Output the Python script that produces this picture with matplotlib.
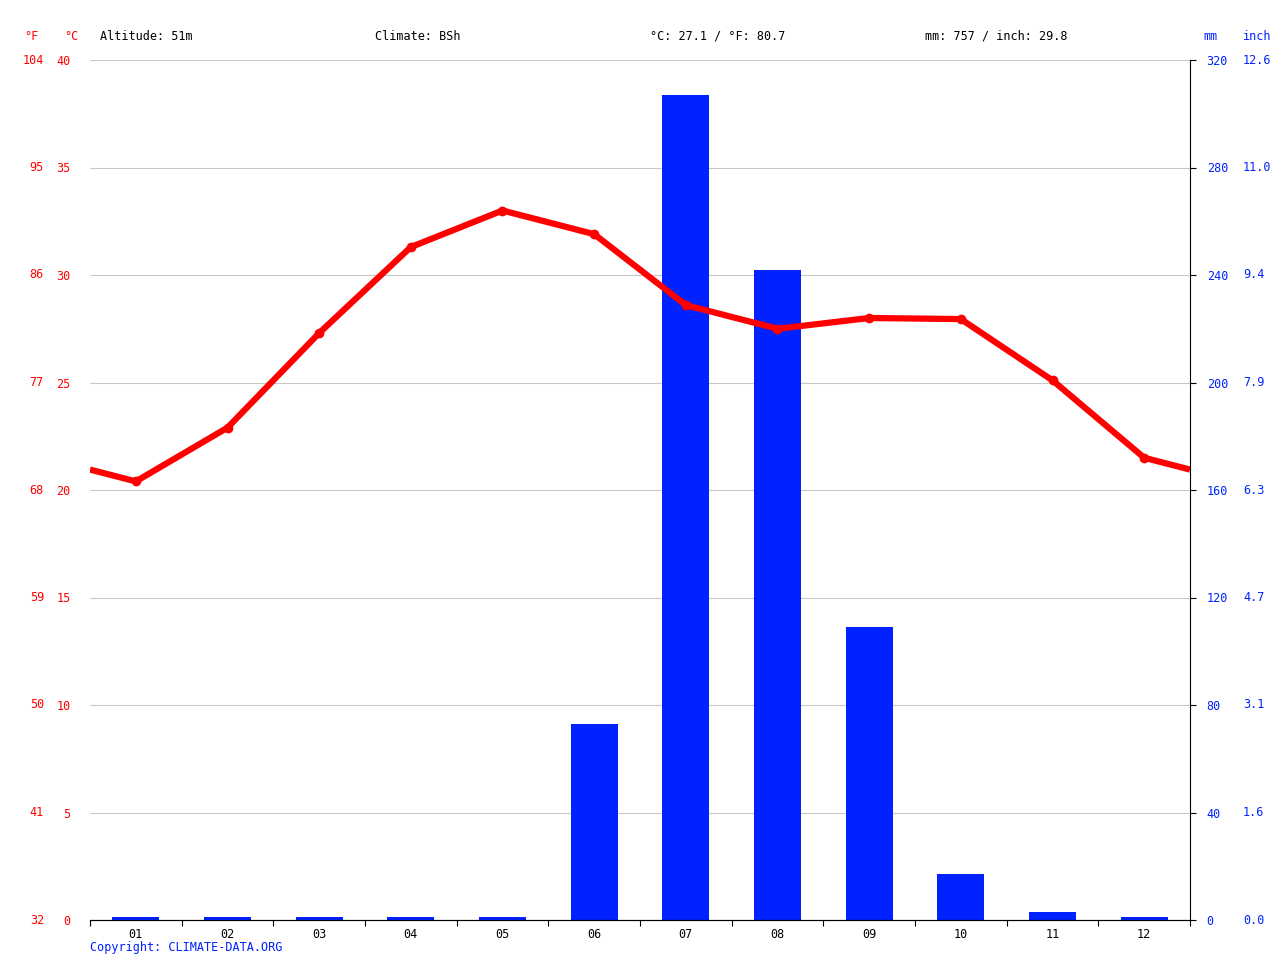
import matplotlib
matplotlib.use('Agg')
import matplotlib.pyplot as plt
import numpy as np

months = ['01', '02', '03', '04', '05', '06', '07', '08', '09', '10', '11', '12']
temp_c = [20.4, 22.9, 27.3, 31.3, 33.0, 31.9, 28.6, 27.5, 28.0, 27.95, 25.1, 21.5]
precip_mm = [1, 1, 1, 1, 1, 73, 307, 242, 109, 17, 3, 1]

c_ticks = [0, 5, 10, 15, 20, 25, 30, 35, 40]
f_labels = ['32', '41', '50', '59', '68', '77', '86', '95', '104']
mm_ticks = [0, 40, 80, 120, 160, 200, 240, 280, 320]
inch_labels = ['0.0', '1.6', '3.1', '4.7', '6.3', '7.9', '9.4', '11.0', '12.6']

red = '#ff0000'
blue = '#0022ff'
mono = 'DejaVu Sans Mono'
fs = 8.5

fig = plt.figure(figsize=(12.8, 9.6), dpi=100)
ax = fig.add_axes([90 / 1280, 40 / 960, 1100 / 1280, 860 / 960])
ax2 = ax.twinx()

x = np.arange(12) + 0.5
ax2.bar(x, precip_mm, width=0.51, color=blue, zorder=2)
ax2.set_ylim(0, 320)

# wrap the line to the plot edges
edge = (temp_c[0] + temp_c[-1]) / 2
lx = np.concatenate([[0], x, [12]])
ly = np.concatenate([[edge], temp_c, [edge]])
ax.plot(lx, ly, color=red, lw=4.5, zorder=5, solid_capstyle='butt')
ax.plot(x, temp_c, 'o', color=red, ms=6, zorder=6)
ax.set_ylim(0, 40)
ax.set_xlim(0, 12)
ax.set_zorder(ax2.get_zorder() + 1)
ax.patch.set_visible(False)

for c in c_ticks[1:]:
    ax2.axhline(c * 8, color='#c8c8c8', lw=0.8, zorder=0)

ax.set_yticks(c_ticks)
ax.set_yticklabels([str(c) for c in c_ticks], color=red, fontsize=fs, family=mono)
ax.tick_params(axis='y', length=0, pad=14)
ax.set_xticks(np.arange(13), minor=False)
ax.set_xticklabels([])
ax.set_xticks(x, minor=True)
ax.set_xticklabels(months, minor=True, fontsize=fs, family=mono)
ax.tick_params(axis='x', which='major', length=4, direction='out')
ax.tick_params(axis='x', which='minor', length=0, pad=6)

ax2.set_yticks(mm_ticks)
ax2.set_yticklabels([str(m) for m in mm_ticks], color=blue, fontsize=fs, family=mono)
ax2.tick_params(axis='y', length=4, pad=8)

for a in (ax, ax2):
    a.spines['top'].set_visible(False)
    a.spines['left'].set_visible(False)
ax.spines['right'].set_visible(False)

H = 960
for c, f in zip(c_ticks, f_labels):
    fig.text(44 / 1280, (40 + c * 21.5) / H, f, color=red, fontsize=fs, family=mono,
             ha='right', va='center')
for m, i in zip(mm_ticks, inch_labels):
    fig.text(1243 / 1280, (40 + m * 860 / 320) / H, i, color=blue, fontsize=fs, family=mono,
             ha='left', va='center')

ty = (H - 36) / H
fig.text(24 / 1280, ty, '°F', color=red, fontsize=fs, family=mono, va='center')
fig.text(64 / 1280, ty, '°C', color=red, fontsize=fs, family=mono, va='center')
fig.text(1203 / 1280, ty, 'mm', color=blue, fontsize=fs, family=mono, va='center')
fig.text(1243 / 1280, ty, 'inch', color=blue, fontsize=fs, family=mono, va='center')
fig.text(100 / 1280, ty, 'Altitude: 51m', fontsize=fs, family=mono, va='center')
fig.text(375 / 1280, ty, 'Climate: BSh', fontsize=fs, family=mono, va='center')
fig.text(650 / 1280, ty, '°C: 27.1 / °F: 80.7', fontsize=fs, family=mono, va='center')
fig.text(925 / 1280, ty, 'mm: 757 / inch: 29.8', fontsize=fs, family=mono, va='center')
fig.text(90 / 1280, (H - 948) / H, 'Copyright: CLIMATE-DATA.ORG', color=blue, fontsize=fs,
         family=mono, va='center')

fig.savefig('out.png', dpi=100)
